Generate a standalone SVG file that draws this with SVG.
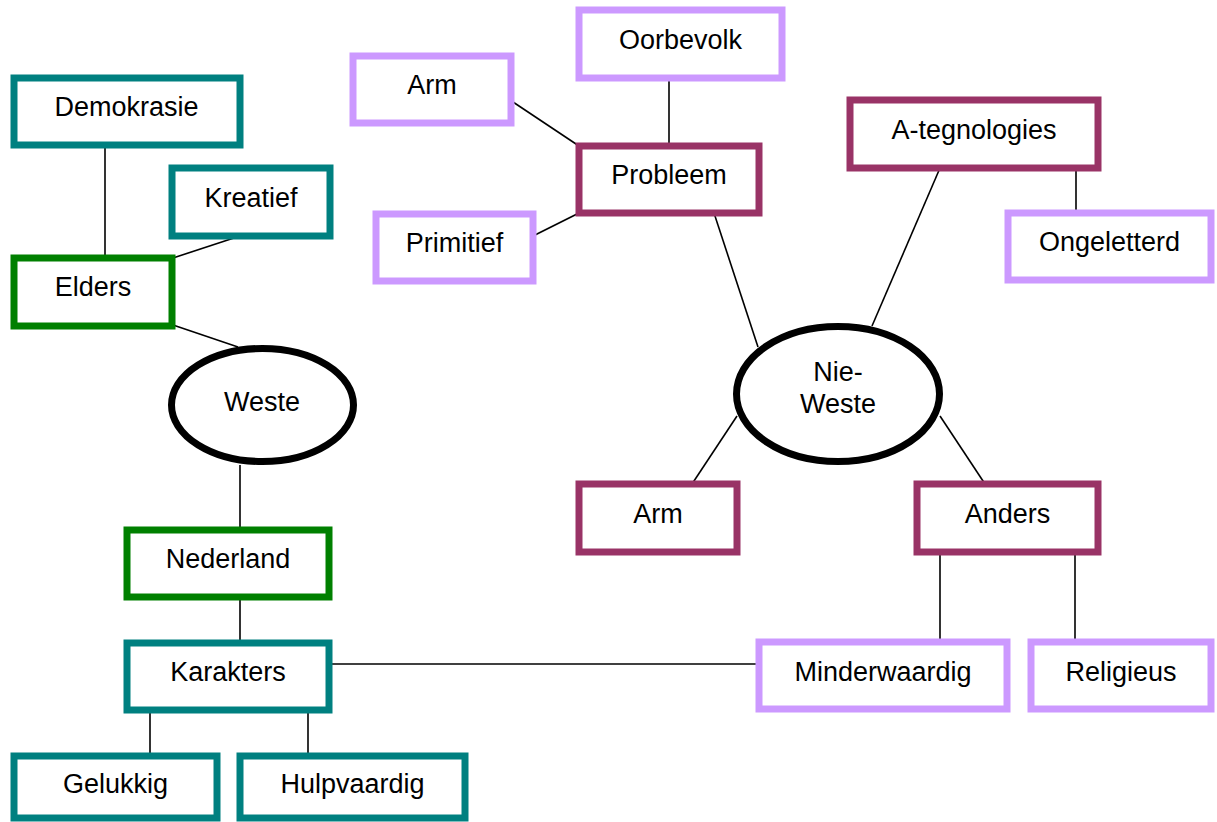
<svg xmlns="http://www.w3.org/2000/svg" width="1217" height="822" viewBox="0 0 1217 822">
<style>
rect{fill:#fff;stroke-width:7}
.teal{stroke:#008080}
.green{stroke:#008000}
.plum{stroke:#993366}
.lav{stroke:#CC99FF}
ellipse{fill:#fff;stroke:#000;stroke-width:7}
text{font-family:"Liberation Sans",Arial,sans-serif;font-size:27px;fill:#000;text-anchor:middle}
#connectors line{stroke:#000;stroke-width:1.6}
</style>
<rect x="0" y="0" width="1217" height="822" style="fill:#fff;stroke:none"/>
<g id="connectors">
<line x1="105" y1="142" x2="105" y2="258"/>
<line x1="240" y1="236" x2="173" y2="258"/>
<line x1="173" y1="325" x2="238" y2="347"/>
<line x1="240" y1="465" x2="240" y2="530"/>
<line x1="240" y1="600" x2="240" y2="643"/>
<line x1="150" y1="710" x2="150" y2="756"/>
<line x1="308" y1="710" x2="308" y2="756"/>
<line x1="330" y1="664" x2="759" y2="664"/>
<line x1="669" y1="78" x2="669" y2="146"/>
<line x1="510" y1="100" x2="579" y2="146"/>
<line x1="533" y1="236" x2="579" y2="213"/>
<line x1="714" y1="213" x2="758" y2="347"/>
<line x1="872" y1="326" x2="940" y2="168"/>
<line x1="1076" y1="168" x2="1076" y2="213"/>
<line x1="737" y1="416" x2="692" y2="484"/>
<line x1="940" y1="416" x2="985" y2="484"/>
<line x1="940" y1="552" x2="940" y2="642"/>
<line x1="1075" y1="552" x2="1075" y2="642"/>
</g>
<g id="demokrasie"><rect class="teal" x="14" y="78" width="226" height="67"/><text x="126.5" y="116">Demokrasie</text></g>
<g id="kreatief"><rect class="teal" x="172" y="168" width="158" height="68"/><text x="251" y="207">Kreatief</text></g>
<g id="elders"><rect class="green" x="14" y="258" width="158" height="68"/><text x="93" y="296">Elders</text></g>
<g id="weste"><ellipse cx="262.5" cy="405" rx="91" ry="56.5"/><text x="262" y="411">Weste</text></g>
<g id="nederland"><rect class="green" x="127" y="530" width="202" height="67"/><text x="228" y="568">Nederland</text></g>
<g id="karakters"><rect class="teal" x="127" y="643" width="202" height="67"/><text x="228" y="681">Karakters</text></g>
<g id="gelukkig"><rect class="teal" x="14" y="756" width="203" height="62"/><text x="115.5" y="793">Gelukkig</text></g>
<g id="hulpvaardig"><rect class="teal" x="240" y="756" width="225" height="62"/><text x="352.5" y="793">Hulpvaardig</text></g>
<g id="arm-top"><rect class="lav" x="353" y="56" width="158" height="67"/><text x="432" y="94">Arm</text></g>
<g id="oorbevolk"><rect class="lav" x="579" y="10" width="203" height="68"/><text x="680.5" y="49">Oorbevolk</text></g>
<g id="probleem"><rect class="plum" x="579" y="146" width="180" height="67"/><text x="669" y="184">Probleem</text></g>
<g id="primitief"><rect class="lav" x="376" y="214" width="157" height="67"/><text x="454.5" y="252">Primitief</text></g>
<g id="a-tegnologies"><rect class="plum" x="850" y="100" width="248" height="68"/><text x="974" y="139">A-tegnologies</text></g>
<g id="ongeletterd"><rect class="lav" x="1008" y="213" width="203" height="67"/><text x="1109.5" y="251">Ongeletterd</text></g>
<g id="nie-weste"><ellipse cx="838" cy="394" rx="101.5" ry="67.5"/><text x="838" y="381">Nie-</text><text x="838" y="413">Weste</text></g>
<g id="arm-bottom"><rect class="plum" x="579" y="484" width="158" height="68"/><text x="658" y="523">Arm</text></g>
<g id="anders"><rect class="plum" x="917" y="484" width="181" height="68"/><text x="1007.5" y="523">Anders</text></g>
<g id="minderwaardig"><rect class="lav" x="759" y="642" width="248" height="67"/><text x="883" y="681">Minderwaardig</text></g>
<g id="religieus"><rect class="lav" x="1031" y="642" width="180" height="67"/><text x="1121" y="681">Religieus</text></g>
</svg>
